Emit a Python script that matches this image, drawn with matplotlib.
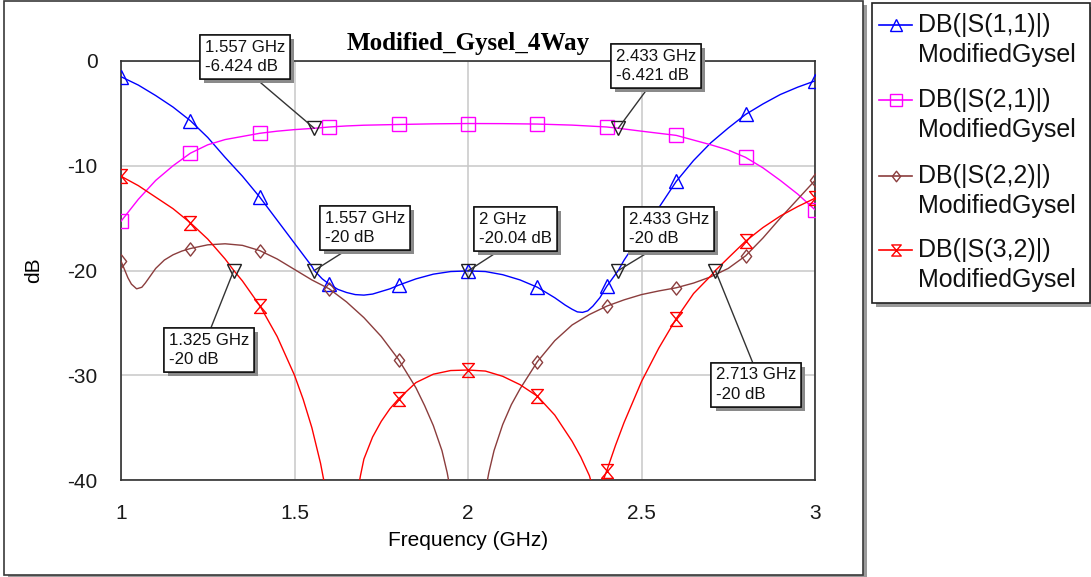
import numpy as np
import matplotlib
matplotlib.use("Agg")
import matplotlib.pyplot as plt
from matplotlib.path import Path
from matplotlib.patches import Rectangle
import matplotlib.patheffects as pe

plt.rcParams['font.family'] = ['Liberation Sans', 'DejaVu Sans']
plt.rcParams['axes.unicode_minus'] = False

# ---------------- data ----------------
s11_freq = [1.0, 1.05, 1.1, 1.15, 1.2, 1.25, 1.3, 1.35, 1.4, 1.45, 1.5, 1.55, 1.557,
            1.58, 1.6, 1.625, 1.65, 1.675, 1.7, 1.725, 1.75, 1.775, 1.8, 1.85, 1.9, 1.95, 2.0,
            2.05, 2.1, 2.15, 2.2, 2.25, 2.28, 2.3, 2.315, 2.33, 2.345, 2.36, 2.38, 2.4, 2.433,
            2.45, 2.5, 2.55, 2.6, 2.65, 2.7, 2.75, 2.8, 2.85, 2.9, 2.95, 3.0]
s11_db = [-1.5, -2.3, -3.3, -4.4, -5.7, -7.3, -9.2, -11.0, -13.0, -15.2, -17.4, -19.6, -20.0,
          -20.8, -21.3, -21.8, -22.1, -22.3, -22.35, -22.25, -22.0, -21.75, -21.4, -20.8, -20.35, -20.1, -20.04,
          -20.1, -20.4, -20.9, -21.6, -22.6, -23.3, -23.7, -23.95, -24.0, -23.85, -23.4, -22.6, -21.5, -20.0,
          -19.0, -16.5, -14.0, -11.5, -9.5, -7.8, -6.4, -5.1, -4.1, -3.2, -2.5, -1.9]

s21_freq = [1.0, 1.05, 1.1, 1.15, 1.2, 1.25, 1.3, 1.35, 1.4, 1.45, 1.5, 1.557, 1.6,
            1.65, 1.7, 1.8, 1.9, 2.0, 2.1, 2.2, 2.3, 2.4, 2.433, 2.5, 2.6, 2.7,
            2.75, 2.8, 2.85, 2.9, 2.95, 3.0]
s21_db = [-15.3, -13.2, -11.4, -10.0, -8.8, -8.0, -7.5, -7.2, -6.9, -6.7, -6.55, -6.424, -6.3,
          -6.2, -6.13, -6.06, -6.0, -5.97, -5.98, -6.02, -6.12, -6.3, -6.421, -6.7, -7.1, -8.0,
          -8.5, -9.2, -10.2, -11.4, -12.7, -14.2]

s22_freq = [1.0, 1.01, 1.02, 1.03, 1.045, 1.06, 1.07, 1.085, 1.1, 1.125, 1.15, 1.175, 1.2,
            1.25, 1.3, 1.35, 1.4, 1.45, 1.5, 1.55, 1.6, 1.65, 1.7, 1.75, 1.8, 1.85, 1.875,
            1.9, 1.925, 1.94, 1.955, 2.0, 2.045, 2.06, 2.075, 2.1, 2.125, 2.15,
            2.2, 2.25, 2.3, 2.35, 2.4, 2.45, 2.5, 2.55, 2.6, 2.65, 2.7, 2.75, 2.8,
            2.85, 2.9, 2.95, 3.0]
s22_db = [-19.1, -19.9, -20.7, -21.3, -21.75, -21.6, -21.2, -20.5, -19.8, -19.0, -18.5, -18.15, -17.9,
          -17.55, -17.45, -17.6, -18.1, -18.9, -19.9, -20.9, -21.75, -23.0, -24.5, -26.3, -28.5, -31.2, -32.9,
          -34.8, -37.2, -39.3, -42.0, -60.0, -42.0, -39.3, -37.2, -34.7, -32.8, -31.3,
          -28.7, -26.7, -25.2, -24.2, -23.4, -22.8, -22.3, -21.95, -21.65, -21.2, -20.6, -19.8, -18.6,
          -16.9, -15.0, -13.2, -11.4]

s32_freq = [1.0, 1.05, 1.1, 1.15, 1.2, 1.25, 1.3, 1.325, 1.35, 1.4, 1.45, 1.5, 1.525, 1.55,
            1.575, 1.59, 1.636, 1.68, 1.69, 1.7, 1.725, 1.75, 1.775, 1.8, 1.85, 1.9, 1.95, 2.0,
            2.05, 2.1, 2.15, 2.2, 2.25, 2.3, 2.325, 2.35, 2.36, 2.373, 2.385, 2.39, 2.4,
            2.425, 2.45, 2.5, 2.55, 2.6, 2.65, 2.7, 2.713, 2.75, 2.8, 2.85, 2.9, 2.95, 3.0]
s32_db = [-11.0, -11.9, -13.0, -14.1, -15.45, -17.0, -18.9, -20.0, -21.0, -23.35, -26.3, -30.0, -32.3, -35.0,
          -38.4, -41.0, -60.0, -41.5, -39.6, -38.0, -35.9, -34.4, -33.2, -32.25, -30.7, -29.9, -29.55, -29.5,
          -29.6, -30.1, -30.9, -32.0, -33.8, -36.3, -37.8, -39.6, -40.8, -60.0, -41.0, -40.0, -39.1,
          -36.7, -34.5, -30.6, -27.4, -24.6, -22.2, -20.5, -20.0, -18.8, -17.2, -15.9, -14.8, -13.9, -13.1]

series_names = ['DB(|S(1,1)|)', 'DB(|S(2,1)|)', 'DB(|S(2,2)|)', 'DB(|S(3,2)|)']
series_source = 'ModifiedGysel'

marker_freq = [1.557, 2.433, 1.557, 2.0, 2.433, 1.325, 2.713]
marker_db = [-6.424, -6.421, -20.0, -20.04, -20.0, -20.0, -20.0]

x_ticks = [1.0, 1.5, 2.0, 2.5, 3.0]
x_tick_labels = ['1', '1.5', '2', '2.5', '3']
y_ticks = [0, -10, -20, -30, -40]
y_tick_labels = ['0', '-10', '-20', '-30', '-40']

title = 'Modified_Gysel_4Way'
x_label = 'Frequency (GHz)'
y_label = 'dB'

# ---------------- styling / layout ----------------
W, H = 1091, 577
fig = plt.figure(figsize=(W / 100, H / 100), dpi=100)
fig.patch.set_facecolor('white')

# pixel-space overlay for frames and legend
lax = fig.add_axes([0, 0, 1, 1], zorder=-1)
lax.set_xlim(0, W)
lax.set_ylim(H, 0)
lax.axis('off')

# outer chart frame with shadow
lax.add_patch(Rectangle((8, 5), 859, 574, facecolor='#9a9a9a', edgecolor='none'))
lax.add_patch(Rectangle((4, 1), 859, 574, facecolor='white', edgecolor='#3a3a3a', lw=1.2))
# legend frame with shadow
lax.add_patch(Rectangle((876, 7), 218, 300, facecolor='#9a9a9a', edgecolor='none'))
lax.add_patch(Rectangle((872, 3), 218, 300, facecolor='white', edgecolor='#202020', lw=1.2))

ax_l, ax_r, ax_t, ax_b = 121, 815, 61, 480
ax = fig.add_axes([ax_l / W, 1 - ax_b / H, (ax_r - ax_l) / W, (ax_b - ax_t) / H], zorder=1)

c_blue = '#0000ff'
c_mag = '#ff00ff'
c_brown = '#8b3d3d'
c_red = '#ff0000'

diamond = Path([(0, 1), (0.78, 0), (0, -1), (-0.78, 0), (0, 1)],
               [Path.MOVETO, Path.LINETO, Path.LINETO, Path.LINETO, Path.CLOSEPOLY])
hourglass = Path([(-0.85, 1), (0.85, 1), (-0.85, -1), (0.85, -1), (-0.85, 1)],
                 [Path.MOVETO, Path.LINETO, Path.LINETO, Path.LINETO, Path.CLOSEPOLY])

styles = [
    (s11_freq, s11_db, c_blue, '^', 10),
    (s21_freq, s21_db, c_mag, 's', 10),
    (s22_freq, s22_db, c_brown, diamond, 9.5),
    (s32_freq, s32_db, c_red, hourglass, 10),
]

for fr, db, col, mk, ms in styles:
    fr = np.asarray(fr)
    idx = [i for i, f in enumerate(fr) if np.isclose(round(f / 0.2) * 0.2, f)]
    ax.plot(fr, db, color=col, lw=1.0, marker=mk, ms=ms, mfc='none', mec=col, mew=1.0,
            markevery=idx, zorder=3)

ax.plot(marker_freq, marker_db, linestyle='none', marker='v', ms=9.5, mfc='none',
        mec='#202020', mew=1.0, zorder=4)

ax.set_xlim(1, 3)
ax.set_ylim(-40, 0)
ax.set_xticks(x_ticks)
ax.set_xticklabels(x_tick_labels)
ax.set_yticks(y_ticks)
ax.set_yticklabels(y_tick_labels)
ax.tick_params(length=0, labelsize=15, colors='#1a1a1a')
ax.tick_params(axis='x', pad=17)
ax.tick_params(axis='y', pad=17)
ax.grid(True, color='#c8c8c8', lw=1.1)
ax.set_axisbelow(True)
for sp in ax.spines.values():
    sp.set_color('#303030')
    sp.set_linewidth(1.2)

ax.set_title(title, fontfamily=['Liberation Serif', 'DejaVu Serif'], fontweight='bold',
             fontsize=18, pad=8)
ax.set_xlabel(x_label, fontsize=15, va='center')
ax.xaxis.set_label_coords(0.5, (ax_b - 541) / (ax_b - ax_t))
ax.set_ylabel(y_label, fontsize=15, va='center')
ax.yaxis.set_label_coords((34 - ax_l) / (ax_r - ax_l), 0.5)

# marker annotation boxes (text top-left anchor in data coords) and leader attach points
box_pos = [(1.242, 2.05), (2.4265, 1.19), (1.588, -14.28), (2.0317, -14.37),
           (2.464, -14.37), (1.138, -25.92), (2.715, -29.26)]
box_rel = [(0.57, 0), (0.44, 0), (0.36, 0), (0.37, 0), (0.36, 0), (0.5, 1), (0.48, 1)]

for f, d, pos, rel in zip(marker_freq, marker_db, box_pos, box_rel):
    txt = f"{f:g} GHz\n{d:g} dB"
    ann = ax.annotate(txt, xy=(f, d), xytext=pos, textcoords='data', ha='left', va='top',
                      fontsize=12.1, linespacing=1.4, color='#111111',
                      bbox=dict(boxstyle='square,pad=0.28', fc='white', ec='#111111', lw=1.1),
                      arrowprops=dict(arrowstyle='-', color='#333333', lw=1.0,
                                      shrinkA=0, shrinkB=0, relpos=rel),
                      annotation_clip=False, zorder=6)
    ann.get_bbox_patch().set_path_effects([
        pe.withSimplePatchShadow(offset=(3, -3), shadow_rgbFace='#8a8a8a', alpha=1.0),
        pe.Normal()])

# legend (pixel coordinates)
leg_y = [25, 100, 176, 250]
for (fr, db, col, mk, ms), name, y in zip(styles, series_names, leg_y):
    lax.plot([879, 912], [y, y], color=col, lw=1.2)
    lax.plot([895.5], [y], marker=mk, ms=ms * 0.8, mfc='none', mec=col, mew=1.0)
    lax.text(918, y, name, fontsize=18, va='center', ha='left', color='#111111')
    lax.text(918, y + 30, series_source, fontsize=18, va='center', ha='left', color='#111111')

fig.savefig('out.png', dpi=100)
